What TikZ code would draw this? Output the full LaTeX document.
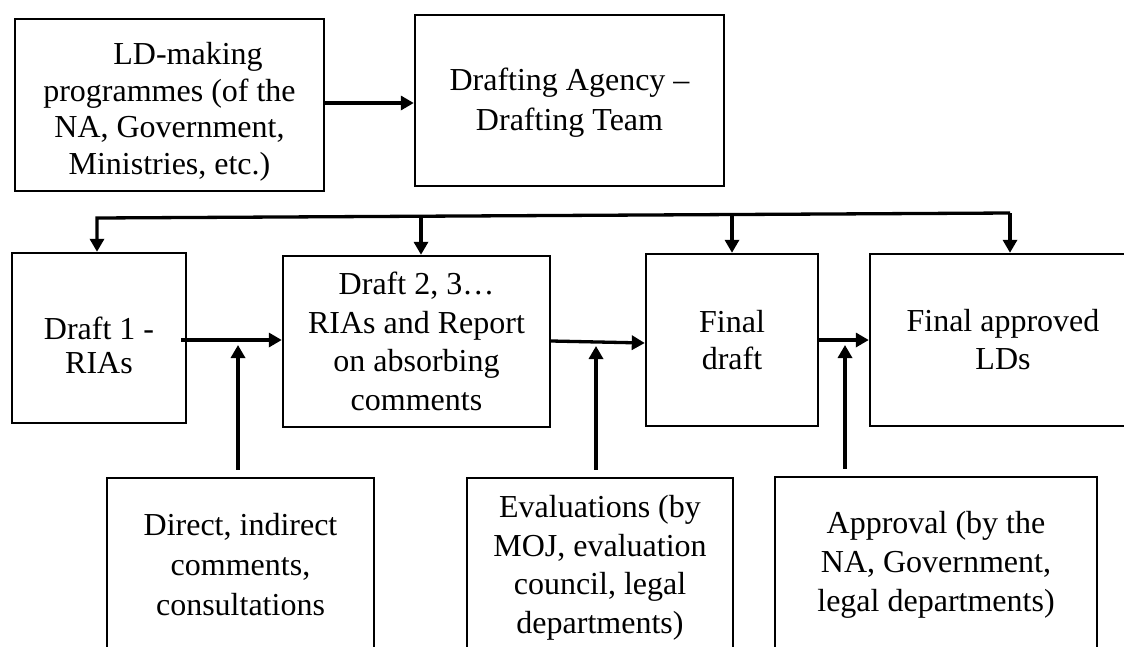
\documentclass[tikz,border=0pt]{standalone}
\usepackage{fontspec}
\setmainfont{Liberation Serif}
\usetikzlibrary{arrows.meta,calc}
\begin{document}
\begin{tikzpicture}[x=1pt,y=-1pt,
  box/.style={draw=black, line width=2.4pt, rectangle, inner sep=0pt, align=center},
  txt/.style={inner sep=0pt, align=center},
  conn/.style={draw=black, line width=3.3pt},
  arr/.style={conn, -{Triangle[length=13pt,width=14pt]}},
  fs/.style={font=\fontsize{32}{#1}\selectfont}
]
\useasboundingbox (0,0) rectangle (1124,646);
% top row
\node[box, minimum width=309pt, minimum height=172pt] (A) at (169.5,105) {};
\node[txt, fs=36.5] (At) at ($(A.center)+(0,7)$)
  {\hspace*{37pt}LD-making\\programmes (of the\\NA, Government,\\Ministries, etc.)};
\node[box, fs=40, minimum width=309pt, minimum height=171pt] (B) at (569.5,100.5) {};
\node[txt, fs=40] (Bt) at ($(B.center)+(0,2)$)
  {Drafting Agency \textendash\\Drafting Team};
% middle row
\node[box, minimum width=174pt, minimum height=170pt] (D1) at (99,338) {};
\node[txt, fs=34] (D1t) at ($(D1.center)+(0,7)$) {Draft 1 -\\RIAs};
\node[box, fs=38.5, minimum width=267pt, minimum height=171pt] (D2) at (416.5,341.5)
  {Draft 2, 3…\\RIAs and Report\\on absorbing\\comments};
\node[box, fs=37, minimum width=172pt, minimum height=172pt] (FD) at (732,340)
  {Final\\draft};
\node[box, fs=38, minimum width=266pt, minimum height=172pt] (FA) at (1003,340)
  {Final approved\\LDs};
% bottom row
\node[box, fs=40, minimum width=267pt, minimum height=174pt] (C1) at (240.5,565)
  {Direct, indirect\\comments,\\consultations};
\node[box, minimum width=266pt, minimum height=174pt] (C2) at (600,565) {};
\node[txt, fs=38.5] (C2t) at ($(C2.center)+(0,3)$)
  {Evaluations (by\\MOJ, evaluation\\council, legal\\departments)};
\node[box, fs=39, minimum width=322pt, minimum height=175pt] (C3) at (936,564.5)
  {Approval (by the\\NA, Government,\\legal departments)};
% bus coordinates
\coordinate (bL) at (97,218);
\coordinate (bR) at (1010,213);
\coordinate (m1) at (421,217);
\coordinate (m2) at (732,215);
% junction coordinates on horizontal arrows
\coordinate (j1) at (238,345);
\coordinate (j2) at (596,346);
\coordinate (j3) at (845,345);
% connectors
\draw[arr] (A.east |- 0,103) -- (B.west |- 0,103);
\draw[arr] (bR) -- (bL) -- (bL |- D1.north);
\draw[arr] (bR) -- (bR |- FA.north);
\draw[arr] (m1) -- (m1 |- D2.north);
\draw[arr] (m2) -- (m2 |- FD.north);
\draw[arr] ([xshift=-6pt]D1.east |- 0,340) -- (D2.west |- 0,340);
\draw[arr] (D2.east |- 0,341) -- (FD.west |- 0,343);
\draw[arr] (FD.east |- 0,340) -- (FA.west |- 0,340);
\draw[arr] ($(j1 |- C1.north)+(0,-7)$) -- (j1);
\draw[arr] ($(j2 |- C2.north)+(0,-7)$) -- (j2);
\draw[arr] ($(j3 |- C3.north)+(0,-7)$) -- (j3);
\end{tikzpicture}
\end{document}
